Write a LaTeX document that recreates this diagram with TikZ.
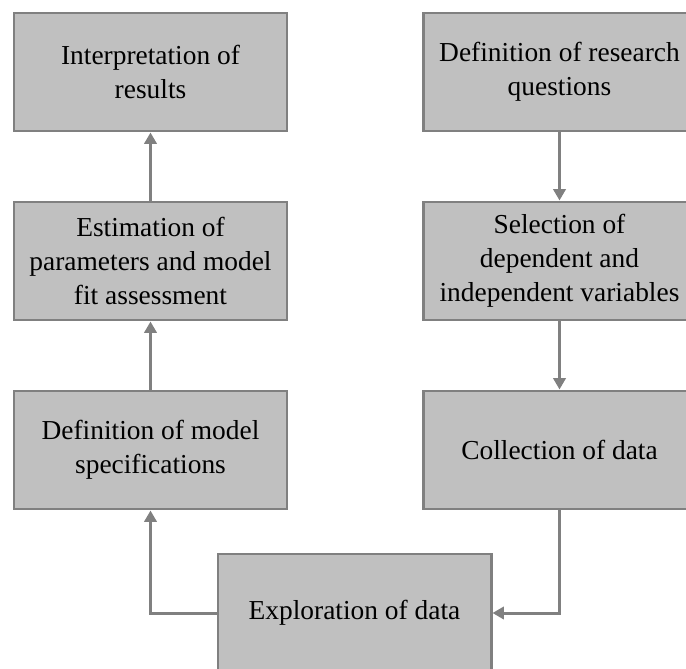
\documentclass[tikz,border=0pt]{standalone}
\usepackage{fontspec}
\setmainfont{Liberation Serif}
\usetikzlibrary{arrows.meta}
\definecolor{boxfill}{HTML}{C0C0C0}
\definecolor{boxline}{HTML}{808080}
\tikzset{
  stepbox/.style={draw=boxline, fill=boxfill, line width=1.7pt,
    minimum width=5.46cm, minimum height=2.36cm, align=center,
    text=black, font=\fontsize{15.6}{19.4}\selectfont},
  flow/.style={draw=boxline, line width=1.7pt,
    -{Triangle[width=7pt,length=6.5pt]}}
}
\begin{document}
\begin{tikzpicture}

    \useasboundingbox (0,0) rectangle (13.72,13.36);
    \clip (0,0) rectangle (13.72,13.36);

    \node[stepbox] (interp) at (3.01,11.92) {Interpretation of\\results};
    \node[stepbox] (estim) at (3.01,8.14) {Estimation of\\parameters and model\\fit assessment};
    \node[stepbox] (spec) at (3.01,4.36) {Definition of model\\specifications};

    \node[stepbox] (quest) at (11.19,11.92) {Definition of research\\questions};
    \node[stepbox] (select) at (11.19,8.14) {Selection of\\dependent and\\independent variables};
    \node[stepbox] (collect) at (11.19,4.36) {Collection of data};

    \node[stepbox] (explore) at (7.09,1.10) {Exploration of data};

    \draw[flow] (quest) -- (select);
    \draw[flow] (select) -- (collect);
    \draw[flow] (collect.south) |- (explore.east);
    \draw[flow] (explore.west) -| (spec.south);
    \draw[flow] (spec) -- (estim);
    \draw[flow] (estim) -- (interp);

  \end{tikzpicture}
\end{document}
